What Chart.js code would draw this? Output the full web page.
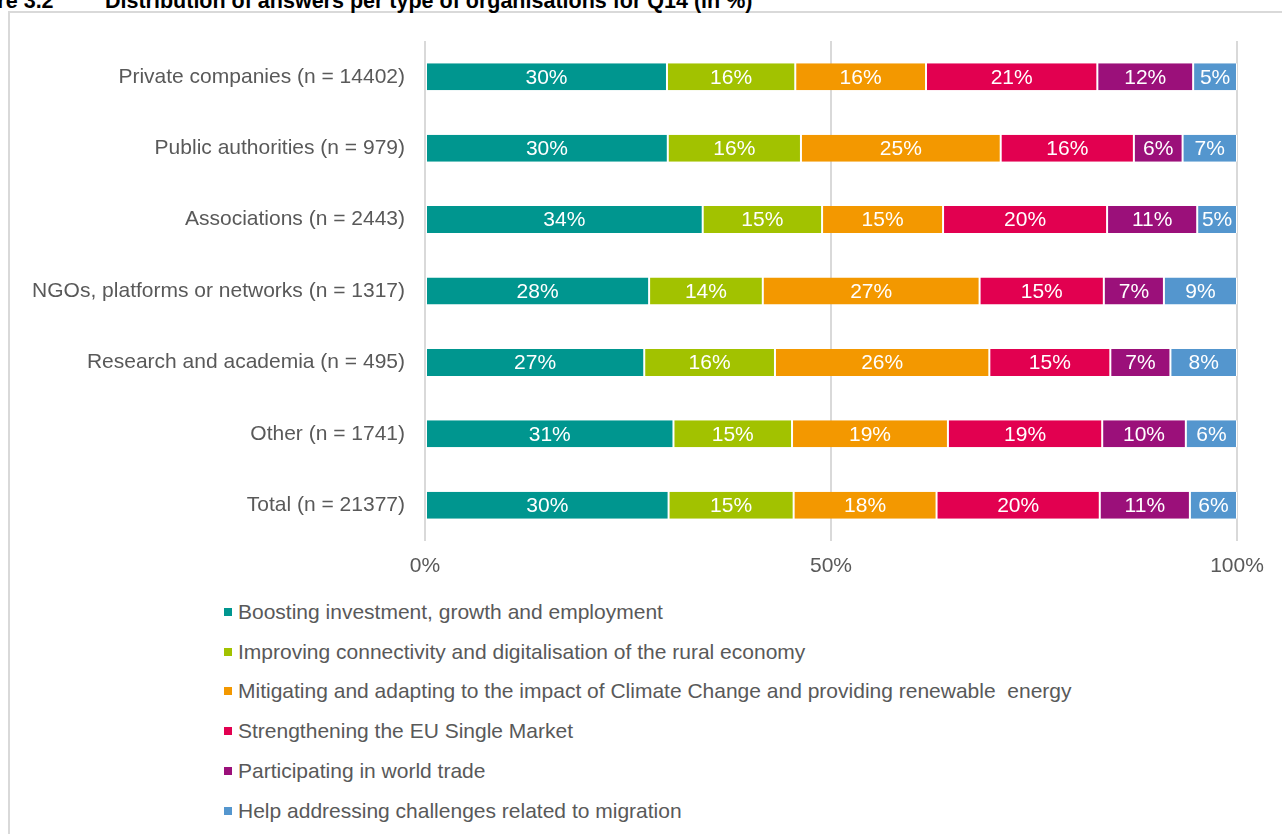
<!DOCTYPE html>
<html>
<head>
<meta charset="utf-8">
<script src="https://cdn.jsdelivr.net/npm/chart.js@4.4.0/dist/chart.umd.min.js"></script>
<style>
body{margin:0;background:#fff;width:1282px;height:834px;overflow:hidden;position:relative;font-family:"Liberation Sans",Arial,sans-serif;}
.title{position:absolute;top:-9px;font-weight:bold;font-size:21.5px;line-height:21.5px;white-space:pre;color:#000;}
.frame{position:absolute;left:8px;top:11px;width:1400px;height:1000px;border-left:2px solid #d9d9d9;border-top:2px solid #d9d9d9;}
.chart-box{position:absolute;left:0;top:0;width:1282px;height:590px;}
#legend{position:absolute;left:224px;top:592px;}
.legend-item{display:flex;align-items:center;height:39.8px;font-size:21px;color:#595959;white-space:pre;}
.legend-box{width:8px;height:8px;margin-right:6px;flex:none;}
</style>
</head>
<body>
<div class="frame"></div>
<div class="title" style="left:-48px">Figure 3.2</div>
<div class="title" style="left:105px">Distribution of answers per type of organisations for Q14 (in %)</div>
<div class="chart-box"><canvas id="chart"></canvas></div>
<div id="legend"></div>
<script>
const categories = [
    'Private companies (n = 14402)',
    'Public authorities (n = 979)',
    'Associations (n = 2443)',
    'NGOs, platforms or networks (n = 1317)',
    'Research and academia (n = 495)',
    'Other (n = 1741)',
    'Total (n = 21377)'
];
const seriesNames = [
    'Boosting investment, growth and employment',
    'Improving connectivity and digitalisation of the rural economy',
    'Mitigating and adapting to the impact of Climate Change and providing renewable  energy',
    'Strengthening the EU Single Market',
    'Participating in world trade',
    'Help addressing challenges related to migration'
];
const seriesColors = ['#00968F', '#A2C200', '#F39800', '#E20050', '#9B107A', '#5496CE'];

const investment   = [29.8, 29.9, 34.2, 27.6, 27.0, 30.6, 30.0];
const connectivity = [15.8, 16.4, 14.7, 14.0, 16.1, 14.6, 15.4];
const climate      = [16.1, 24.6, 14.9, 26.7, 26.4, 19.2, 17.6];
const singleMarket = [21.1, 16.4, 20.2, 15.3, 14.9, 19.0, 20.1];
const worldTrade   = [11.8,  6.0, 11.1,  7.4,  7.4, 10.3, 11.1];
const migration    = [ 5.4,  6.7,  4.9,  9.0,  8.2,  6.3,  5.8];
const xTicks = [0, 50, 100];

const FONT = '"Liberation Sans", Arial, sans-serif';
const GREY = '#595959';

// white percentage text in the middle of every segment
const barLabels = {
    id: 'barLabels',
    afterDatasetsDraw(chart){
        const ctx = chart.ctx;
        ctx.save();
        ctx.font = '21px ' + FONT;
        ctx.fillStyle = '#fff';
        ctx.textAlign = 'center';
        ctx.textBaseline = 'middle';
        chart.data.datasets.forEach((ds, i) => {
            chart.getDatasetMeta(i).data.forEach((bar, j) => {
                ctx.fillText(Math.round(ds.data[j]) + '%', (bar.x + bar.base) / 2, bar.y + 1);
            });
        });
        ctx.restore();
    }
};

// one legend entry per line, below the chart
const htmlLegend = {
    id: 'htmlLegend',
    afterUpdate(chart){
        const box = document.getElementById('legend');
        box.innerHTML = '';
        chart.options.plugins.legend.labels.generateLabels(chart).forEach(item => {
            const row = document.createElement('div');
            row.className = 'legend-item';
            const sq = document.createElement('span');
            sq.className = 'legend-box';
            sq.style.background = item.fillStyle;
            const txt = document.createElement('span');
            txt.textContent = item.text;
            row.appendChild(sq);
            row.appendChild(txt);
            box.appendChild(row);
        });
    }
};

const seriesData = [investment, connectivity, climate, singleMarket, worldTrade, migration];

const config = {
    type: 'bar',
    data: {
        labels: categories,
        datasets: seriesNames.map((name, i) => ({
            label: name,
            data: seriesData[i],
            backgroundColor: seriesColors[i],
            borderColor: '#fff',
            borderWidth: {left: 1, right: 1, top: 0, bottom: 0},
            borderSkipped: false,
            barPercentage: 0.378,
            categoryPercentage: 1
        }))
    },
    options: {
        indexAxis: 'y',
        responsive: true,
        maintainAspectRatio: false,
        animation: false,
        layout: {padding: {top: 41, right: 45, left: 0, bottom: 0}},
        plugins: {
            legend: {display: false},
            tooltip: {enabled: false}
        },
        scales: {
            x: {
                stacked: true,
                min: 0,
                max: 100,
                afterBuildTicks: scale => { scale.ticks = xTicks.map(v => ({value: v})); },
                afterFit: scale => { scale.height = 49; },
                ticks: {
                    color: GREY,
                    font: {family: FONT, size: 21},
                    padding: 13,
                    callback: v => v + '%'
                },
                grid: {color: '#d9d9d9', lineWidth: 2, drawTicks: false},
                border: {display: false}
            },
            y: {
                stacked: true,
                afterFit: scale => { scale.width = 425; },
                ticks: {
                    color: GREY,
                    font: {family: FONT, size: 21},
                    padding: 20
                },
                grid: {display: false, drawTicks: false},
                border: {display: false}
            }
        }
    },
    plugins: [barLabels, htmlLegend]
};

new Chart(document.getElementById('chart').getContext('2d'), config);
</script>
</body>
</html>
